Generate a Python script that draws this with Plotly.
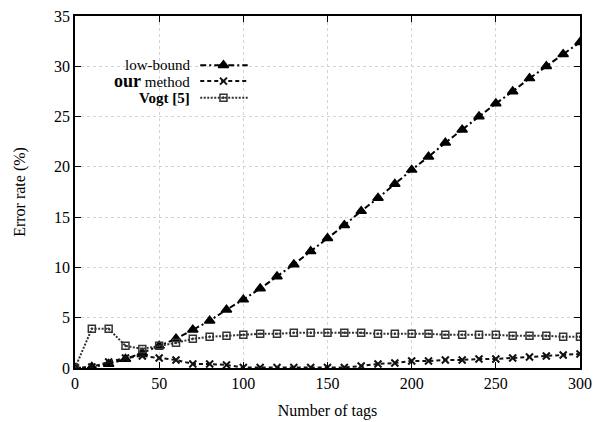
import plotly.graph_objects as go

tags = list(range(0, 301, 10))
low_bound = [0, 0.1, 0.4, 0.9, 1.5, 2.2, 2.9, 3.8, 4.7, 5.8, 6.8, 7.9, 9.1, 10.3, 11.6, 12.9,
             14.2, 15.6, 16.9, 18.3, 19.7, 21.0, 22.4, 23.7, 25.0, 26.3, 27.5, 28.8, 30.0, 31.2, 32.4]
our_method = [0, 0.1, 0.6, 1.0, 1.2, 1.0, 0.8, 0.4, 0.4, 0.3, 0.05, 0.05, 0.05, 0.05, 0.05, 0.05,
              0.05, 0.2, 0.4, 0.5, 0.7, 0.7, 0.8, 0.8, 0.9, 0.9, 1.0, 1.1, 1.2, 1.3, 1.4]
vogt = [0, 3.9, 3.9, 2.2, 1.9, 2.2, 2.5, 2.9, 3.1, 3.2, 3.3, 3.4, 3.4, 3.5, 3.5, 3.5,
        3.5, 3.5, 3.4, 3.4, 3.4, 3.4, 3.3, 3.3, 3.3, 3.3, 3.2, 3.2, 3.2, 3.1, 3.1]

x_ticks = [0, 50, 100, 150, 200, 250, 300]
y_ticks = [0, 5, 10, 15, 20, 25, 30, 35]

names = ["low-bound", "<b style='font-size:18px'>our</b> method", "<b>Vogt [5]</b>"]
dashes = ["6px,3px,2px,3px", "4px,3px", "2px,1.5px"]
symbols = ["triangle-up", "x-thin", "square-open-dot"]
colors = ["#000000", "#111111", "#333333"]
sizes = [9, 7, 7]
widths = [1.5, 2, 1.5]
series = [low_bound, our_method, vogt]

FONT = "Liberation Serif, Times New Roman, serif"
fig = go.Figure()

for s, d, sym, c, sz, w in zip(series, dashes, symbols, colors, sizes, widths):
    fig.add_trace(go.Scatter(
        x=tags, y=s, mode="lines+markers", showlegend=False,
        line=dict(color=c, dash=d, width=2),
        marker=dict(symbol=sym, size=sz, color=c, line=dict(color=c, width=w)),
    ))

# manual legend (plot-area fractions)
leg_rows = [0.86, 0.815, 0.768]
leg_x0, leg_x1, leg_xm = 0.248, 0.342, 0.294
leg_text_x = 0.229
for y, n, d, sym, c, sz, w in zip(leg_rows, names, dashes, symbols, colors, sizes, widths):
    fig.add_trace(go.Scatter(x=[leg_x0, leg_x1], y=[y, y], mode="lines", xaxis="x2", yaxis="y2",
                             showlegend=False, line=dict(color=c, dash=d, width=2), hoverinfo="skip"))
    fig.add_trace(go.Scatter(x=[leg_xm], y=[y], mode="markers", xaxis="x2", yaxis="y2",
                             showlegend=False, hoverinfo="skip",
                             marker=dict(symbol=sym, size=sz, color=c, line=dict(color=c, width=w))))
    fig.add_annotation(x=leg_text_x, y=y, xref="paper", yref="paper", text=n, showarrow=False,
                       xanchor="right", yanchor="middle", borderpad=0,
                       font=dict(family=FONT, size=15, color="#000"))

axis_common = dict(
    showline=True, linecolor="#000", linewidth=1.5, mirror="ticks", ticks="inside",
    ticklen=6, tickcolor="#000", showgrid=True, gridcolor="#d4d4d4", griddash="dot",
    gridwidth=1, zeroline=False, automargin=False,
    tickfont=dict(family=FONT, size=16, color="#000"),
)
fig.update_layout(
    width=593, height=422,
    margin=dict(l=75, r=13, t=16, b=54),
    paper_bgcolor="white", plot_bgcolor="white",
    font=dict(family=FONT, color="#000"),
    xaxis=dict(range=[0, 300], tickvals=x_ticks,
               title=dict(text="Number of tags", font=dict(family=FONT, size=16), standoff=14),
               **axis_common),
    yaxis=dict(range=[0, 35], tickvals=y_ticks,
               title=dict(text="Error rate (%)", font=dict(family=FONT, size=16), standoff=24),
               **axis_common),
    xaxis2=dict(range=[0, 1], overlaying="x", visible=False, fixedrange=True),
    yaxis2=dict(range=[0, 1], overlaying="y", visible=False, fixedrange=True),
)
fig.write_html("out.html")
